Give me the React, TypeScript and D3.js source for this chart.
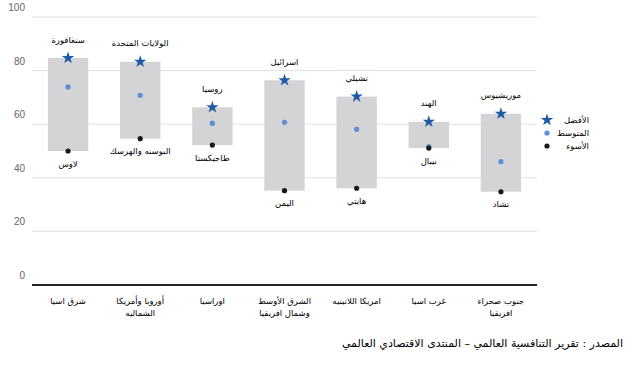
import React, { useEffect, useRef } from 'react';
import * as d3 from 'd3';

// regions (x axis), split into lines
const regions: string[][] = [
    ['شرق اسيا'],
    ['أوروبا وأمريكا', 'الشماليه'],
    ['اوراسيا'],
    ['الشرق الأوسط', 'وشمال افريقيا'],
    ['امريكا اللاتينيه'],
    ['غرب اسيا'],
    ['جنوب صحراء', 'افريقيا'],
];
const bestValues = [84.7, 83.3, 66.3, 76.4, 70.3, 60.9, 63.9];
const avgValues = [73.9, 70.8, 60.4, 60.7, 58.1, 51.6, 46.0];
const worstValues = [50.0, 54.6, 52.2, 35.2, 36.1, 51.1, 34.8];
const bestNames = ['سنغافورة', 'الولايات المتحدة', 'روسيا', 'اسرائيل', 'تشيلي', 'الهند', 'موريشيوس'];
const worstNames = ['لاوس', 'البوسنه والهرسك', 'طاجيكستا', 'اليمن', 'هايتي', 'نيبال', 'تشاد'];
const yTicks = [0, 20, 40, 60, 80, 100];
const legendItems = ['الأفضل', 'المتوسط', 'الأسوء'];
const sourceText = 'المصدر : تقرير التنافسية العالمي – المنتدى الاقتصادي العالمي';

const W = 637, H = 368;
const margin = { top: 17, right: 100, bottom: 83, left: 32 };
const FONT = '"DejaVu Sans", sans-serif';
const barFill = '#d4d4d6';
const bestColor = '#1f5aa6';
const avgColor = '#5b8fd6';
const worstColor = '#1a1a1a';

export default function App() {
    const svgRef = useRef<SVGSVGElement>(null);

    useEffect(() => {
        if (!svgRef.current) return;
        const svg = d3.select(svgRef.current);
        svg.selectAll('*').remove();

        const x = d3.scaleBand<number>()
            .domain(regions.map((_, i) => i))
            .range([margin.left, W - margin.right])
            .paddingInner(0.44)
            .paddingOuter(0.22);
        const y = d3.scaleLinear().domain([0, 100]).range([H - margin.bottom, margin.top]);

        // gridlines
        svg.append('g').selectAll('line')
            .data(yTicks.filter(t => t > 0))
            .join('line')
            .attr('x1', margin.left).attr('x2', W - margin.right)
            .attr('y1', d => y(d)).attr('y2', d => y(d))
            .attr('stroke', '#e0e0e0').attr('stroke-width', 1);

        svg.append('g').selectAll('text')
            .data(yTicks)
            .join('text')
            .attr('x', 25).attr('y', d => y(d) - 6)
            .attr('text-anchor', 'end')
            .attr('font-family', 'Arial, "Liberation Sans", sans-serif')
            .attr('font-size', 10)
            .attr('fill', '#666')
            .text(d => d);

        // label backgrounds + labels (drawn before bars so bars sit above them)
        const labelLayer = svg.append('g');
        const addLabel = (cx: number, cy: number, txt: string) => {
            const t = labelLayer.append('text')
                .attr('x', cx).attr('y', cy)
                .attr('text-anchor', 'middle')
                .attr('dominant-baseline', 'middle')
                .attr('font-family', FONT)
                .attr('font-size', 8.5)
                .attr('fill', '#000')
                .text(txt);
            const bb = (t.node() as SVGTextElement).getBBox();
            labelLayer.insert('rect', 'text')
                .attr('x', bb.x - 10).attr('y', bb.y - 2)
                .attr('width', bb.width + 20).attr('height', bb.height + 4)
                .attr('fill', '#fff');
        };

        const bw = x.bandwidth();
        const bars = svg.append('g');
        regions.forEach((_, i) => {
            const x0 = x(i)!;
            const cx = x0 + bw / 2;
            bars.append('rect')
                .attr('x', x0).attr('width', bw)
                .attr('y', y(bestValues[i]))
                .attr('height', y(worstValues[i]) - y(bestValues[i]))
                .attr('fill', barFill);
            addLabel(cx, y(bestValues[i]) - 18, bestNames[i]);
            addLabel(cx, y(worstValues[i]) + 13, worstNames[i]);
        });
        bars.raise();

        const star = d3.symbol().type(d3.symbolStar).size(48);
        const marks = svg.append('g');
        regions.forEach((_, i) => {
            const cx = x(i)! + bw / 2;
            marks.append('circle').attr('cx', cx).attr('cy', y(avgValues[i])).attr('r', 2.6).attr('fill', avgColor);
            marks.append('circle').attr('cx', cx).attr('cy', y(worstValues[i])).attr('r', 2.6).attr('fill', worstColor);
            marks.append('path').attr('d', star()!).attr('transform', `translate(${cx},${y(bestValues[i])})`).attr('fill', bestColor);
        });

        // zero axis
        svg.append('line')
            .attr('x1', margin.left).attr('x2', W - margin.right)
            .attr('y1', y(0)).attr('y2', y(0))
            .attr('stroke', '#222').attr('stroke-width', 2);

        // x labels
        regions.forEach((lines, i) => {
            const cx = x(i)! + bw / 2;
            lines.forEach((ln, j) => {
                svg.append('text')
                    .attr('x', cx).attr('y', y(0) + 19 + j * 12)
                    .attr('text-anchor', 'middle')
                    .attr('font-family', FONT)
                    .attr('font-size', 8.5)
                    .attr('fill', '#000')
                    .text(ln);
            });
        });

        // legend
        const lg = svg.append('g');
        legendItems.forEach((name, i) => {
            const ly = 120 + i * 13;
            if (i === 0) lg.append('path').attr('d', star()!).attr('transform', `translate(547,${ly})`).attr('fill', bestColor);
            else lg.append('circle').attr('cx', 547).attr('cy', ly).attr('r', 2.6).attr('fill', i === 1 ? avgColor : worstColor);
            lg.append('text')
                .attr('x', 589).attr('y', ly)
                .attr('text-anchor', 'end')
                .attr('dominant-baseline', 'middle')
                .attr('font-family', FONT)
                .attr('font-size', 8.5)
                .attr('fill', '#000')
                .text(name);
        });

        svg.append('text')
            .attr('x', 623).attr('y', 347)
            .attr('text-anchor', 'end')
            .attr('font-family', FONT)
            .attr('font-size', 11)
            .attr('fill', '#000')
            .text(sourceText);
    }, []);

    return (
        <svg ref={svgRef} width={W} height={H}
            style={{ position: 'absolute', left: 0, top: 0, background: '#fff' }} />
    );
}
